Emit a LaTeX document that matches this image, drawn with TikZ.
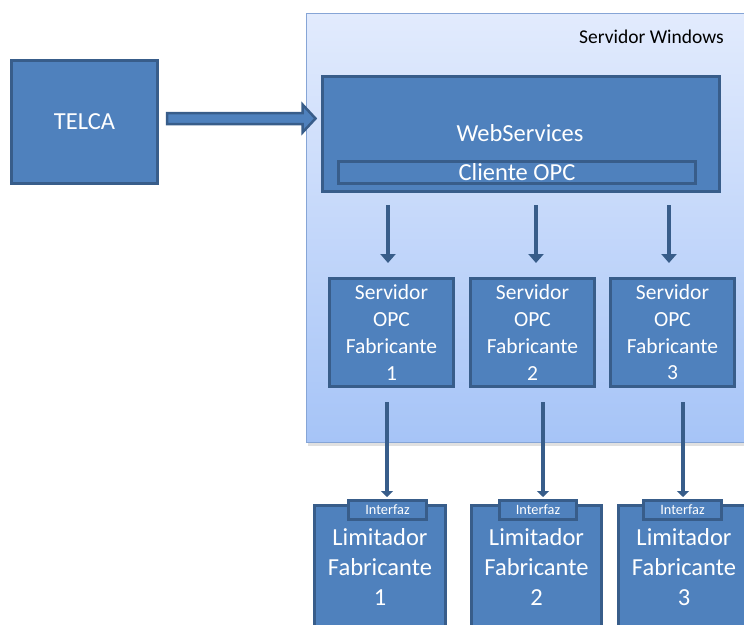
\documentclass[tikz,border=0pt]{standalone}
\usepackage{fontspec}
\setmainfont{Carlito}
\usetikzlibrary{arrows.meta,calc}
\definecolor{boxfill}{HTML}{4F81BD}
\definecolor{boxline}{HTML}{385D8A}
\definecolor{contTop}{HTML}{E2EBFD}
\definecolor{contBot}{HTML}{A6C4F7}
\definecolor{contLine}{HTML}{86A5D6}
\begin{document}
\begin{tikzpicture}[x=1pt,y=-1pt,
  box/.style={draw=boxline, fill=boxfill, line width=3pt, text=white, align=center, inner sep=0pt},
  bigtxt/.style={font=\fontsize{24.5}{30}\selectfont},
  midtxt/.style={font=\fontsize{21.5}{26.7}\selectfont},
  inarrow/.style={draw=boxline, line width=4.5pt, -{Triangle[width=15pt,length=9pt]}},
  outarrow/.style={draw=boxline, line width=4.3pt, -{Triangle[width=12pt,length=6pt]}},
  blockarrow/.style={draw=boxline, fill=boxfill, line width=2.5pt, line join=miter}]
\clip (0,0) rectangle (744,624);
\fill[white] (0,0) rectangle (744,624);
% container
\fill[black, opacity=0.12] (308,16) rectangle (760,446);
\shade[top color=contTop, bottom color=contBot] (306,13) rectangle (760,442);
\draw[contLine, line width=1pt] (760,13) -- (306,13) -- (306,442) -- (760,442);
\node[anchor=east, font=\fontsize{19.5}{24}\selectfont, inner sep=0pt] (srvwin) at (724,37) {Servidor Windows};
% TELCA
\node[box, bigtxt, minimum width=146, minimum height=123] (telca) at (84.5,122) {TELCA};
% WebServices
\node[box, minimum width=397, minimum height=115] (ws) at (521,134) {};
\node[text=white, bigtxt, inner sep=0pt] (wstext) at (520,133) {WebServices};
\node[box, bigtxt, minimum width=357, minimum height=22] (cli) at (517,172.5) {Cliente OPC};
% TELCA arrow
\coordinate (aS) at ($(telca.east)+(8,-3.5)$);
\coordinate (aT) at ($(ws.west)+(-5.5,-15.5)$);
\draw[blockarrow] (aS) ++(0,-5.5) -- ($(aT)+(-13,-5.5)$) -- ($(aT)+(-13,-14)$) -- (aT)
  -- ($(aT)+(-13,14)$) -- ($(aT)+(-13,5.5)$) -- ($(aS)+(0,5.5)$) -- cycle;
% OPC servers
\node[box, midtxt, minimum width=124, minimum height=108] (opc1) at (391.5,332.5) {Servidor\\OPC\\Fabricante\\1};
\node[box, midtxt, minimum width=124, minimum height=108] (opc2) at (532.5,332.5) {Servidor\\OPC\\Fabricante\\2};
\node[box, midtxt, minimum width=124, minimum height=108] (opc3) at (672.5,332.5) {Servidor\\OPC\\Fabricante\\3};
% arrows WebServices -> OPC
\draw[inarrow, shorten <=12pt, shorten >=14pt] ([xshift=-3.5pt]opc1.north |- ws.south) -- ([xshift=-3.5pt]opc1.north);
\draw[inarrow, shorten <=12pt, shorten >=14pt] ([xshift=3.5pt]opc2.north |- ws.south) -- ([xshift=3.5pt]opc2.north);
\draw[inarrow, shorten <=12pt, shorten >=14pt] ([xshift=-3.5pt]opc3.north |- ws.south) -- ([xshift=-3.5pt]opc3.north);
% Limitadores
\node[box, bigtxt, minimum width=131, minimum height=124] (lim1) at (380,567) {Limitador\\Fabricante\\1};
\node[box, bigtxt, minimum width=130, minimum height=124] (lim2) at (536.5,567) {Limitador\\Fabricante\\2};
\node[box, bigtxt, minimum width=131, minimum height=124] (lim3) at (684,567) {Limitador\\Fabricante\\3};
\node[box, font=\fontsize{14.3}{16}\selectfont, minimum width=78, minimum height=19] (if1) at (387.5,510) {Interfaz};
\node[box, font=\fontsize{14.3}{16}\selectfont, minimum width=77, minimum height=19] (if2) at (538,510) {Interfaz};
\node[box, font=\fontsize{14.3}{16}\selectfont, minimum width=78, minimum height=19] (if3) at (682.5,510) {Interfaz};
% arrows OPC -> Interfaz
\draw[outarrow, shorten <=14pt, shorten >=2pt] ([xshift=-0.5pt]if1.north |- opc1.south) -- ([xshift=-0.5pt]if1.north);
\draw[outarrow, shorten <=14pt, shorten >=2pt] ([xshift=5pt]if2.north |- opc2.south) -- ([xshift=5pt]if2.north);
\draw[outarrow, shorten <=14pt, shorten >=2pt] ([xshift=0.5pt]if3.north |- opc3.south) -- ([xshift=0.5pt]if3.north);
\end{tikzpicture}
\end{document}
